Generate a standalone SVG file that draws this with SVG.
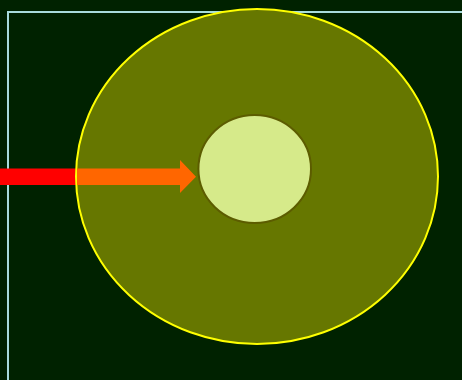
<svg xmlns="http://www.w3.org/2000/svg" width="462" height="380" viewBox="0 0 462 380">
<style>
.frame{fill:none;stroke:#a8dcdc;stroke-width:2}
.outer{fill:#667700;stroke:#ffff00;stroke-width:2}
.inner{fill:#d6ea8a;stroke:#5c5c00;stroke-width:2}
</style>
<rect x="0" y="0" width="462" height="380" fill="#002200"/>
<rect class="frame" x="8" y="12" width="600" height="500"/>
<g id="connectors">
<rect x="0" y="168.5" width="100" height="16.5" fill="#ff0000"/>
</g>
<g id="outer">
<ellipse class="outer" cx="257" cy="176.5" rx="181" ry="167.5"/>
</g>
<g id="arrow">
<polygon points="77,168.5 180,168.5 180,160 196,176.7 180,193 180,185 77,185" fill="#ff6600"/>
</g>
<g id="inner">
<ellipse class="inner" cx="254.7" cy="169" rx="56.3" ry="54"/>
</g>
</svg>
